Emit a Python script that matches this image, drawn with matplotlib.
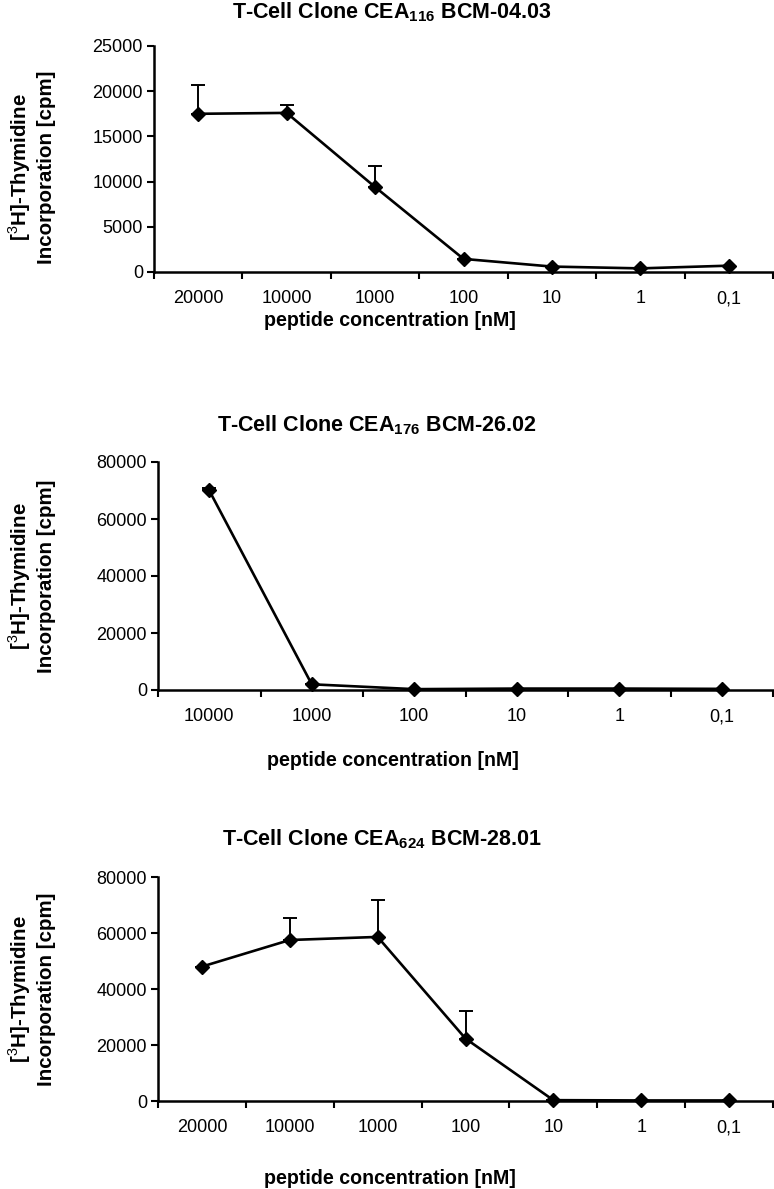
import matplotlib
matplotlib.use("Agg")
import matplotlib.pyplot as plt
import numpy as np

plt.rcParams['font.family'] = ['Liberation Sans', 'DejaVu Sans']
plt.rcParams['mathtext.fontset'] = 'custom'
plt.rcParams['mathtext.rm'] = 'Liberation Sans'
plt.rcParams['mathtext.bf'] = 'Liberation Sans:bold'

# ---- data ----
cats1 = ["20000", "10000", "1000", "100", "10", "1", "0,1"]
vals1 = [17500, 17600, 9400, 1450, 600, 400, 700]
err1 = [3200, 850, 2300, 0, 0, 0, 0]

cats2 = ["10000", "1000", "100", "10", "1", "0,1"]
vals2 = [70000, 2000, 300, 500, 500, 400]
err2 = [800, 0, 0, 0, 0, 0]

cats3 = ["20000", "10000", "1000", "100", "10", "1", "0,1"]
vals3 = [48000, 57500, 58600, 22300, 300, 200, 200]
err3 = [0, 8000, 13300, 9800, 0, 0, 0]

titles = [r"T-Cell Clone CEA$_{\mathbf{116}}$ BCM-04.03",
          r"T-Cell Clone CEA$_{\mathbf{176}}$ BCM-26.02",
          r"T-Cell Clone CEA$_{\mathbf{624}}$ BCM-28.01"]
ymaxes = [25000, 80000, 80000]
ysteps = [5000, 20000, 20000]

W, H = 774, 1189
fig = plt.figure(figsize=(W / 100, H / 100), dpi=100)

# axes boxes in pixel coords: left, right, top, bottom
boxes = [(154, 773, 46, 272), (158, 773, 462, 690), (158, 773, 877, 1101)]
title_y = [12, 425, 839]
title_x = [392, 377, 382]
xlabel_y = [320, 760, 1178]
xlabel_x = [390, 393, 390]

panels = [(cats1, vals1, err1), (cats2, vals2, err2), (cats3, vals3, err3)]

for i, (cats, vals, errs) in enumerate(panels):
    l, r, t, b = boxes[i]
    ax = fig.add_axes([l / W, 1 - b / H, (r - l) / W, (b - t) / H])
    n = len(cats)
    x = np.arange(n)
    ax.errorbar(x, vals, yerr=[np.zeros(n), errs], fmt='none', ecolor='black',
                elinewidth=1.4, capsize=4.8, capthick=1.4, zorder=2)
    ax.plot(x, vals, color='black', lw=1.9, marker='D', ms=6.8,
            mfc='black', mec='black', zorder=3, clip_on=False)
    ax.set_xlim(-0.5, n - 0.5)
    ax.set_ylim(0, ymaxes[i])
    ax.set_yticks(np.arange(0, ymaxes[i] + 1, ysteps[i]))
    ax.set_yticklabels([str(int(v)) for v in np.arange(0, ymaxes[i] + 1, ysteps[i])])
    ax.set_xticks(np.arange(n + 1) - 0.5)
    ax.set_xticklabels([])
    ax.set_xticks(x, minor=True)
    ax.set_xticklabels(cats, minor=True)
    ax.tick_params(axis='x', which='major', direction='out', length=5, width=1.5)
    ax.tick_params(axis='x', which='minor', length=0, pad=13, labelsize=13)
    ax.tick_params(axis='y', direction='out', length=5, width=1.5, labelsize=13, pad=3)
    for s in ['top', 'right']:
        ax.spines[s].set_visible(False)
    for s in ['left', 'bottom']:
        ax.spines[s].set_linewidth(1.8)
    ax.set_facecolor('none')

    fig.text(title_x[i] / W, 1 - title_y[i] / H, titles[i], ha='center', va='center',
             fontsize=15.5, fontweight='bold')
    fig.text(xlabel_x[i] / W, 1 - xlabel_y[i] / H, "peptide concentration [nM]",
             ha='center', va='center', fontsize=14.1, fontweight='bold')
    yc = (t + b) / 2 + (8 if i == 0 else 0)
    fig.text(31 / W, 1 - yc / H, "[$^{3}$H]-Thymidine\nIncorporation [cpm]",
             ha='center', va='center', rotation=90, fontsize=14.8,
             fontweight='bold', linespacing=1.25)

fig.savefig("out.png", dpi=100)
